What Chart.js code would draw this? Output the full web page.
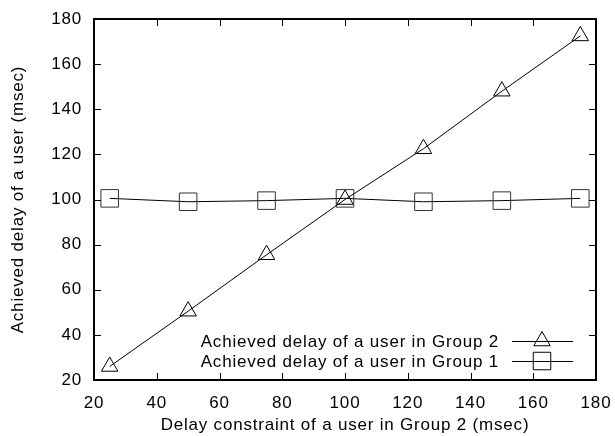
<!DOCTYPE html>
<html>
<head>
<meta charset="utf-8">
<script src="https://cdn.jsdelivr.net/npm/chart.js@4/dist/chart.umd.min.js"></script>
<style>
  body { margin: 0; background: #fff; }
  canvas { display: block; }
</style>
</head>
<body>
<canvas id="delayChart" width="615" height="436"></canvas>
<script>
const delayConstraint = [25, 50, 75, 100, 125, 150, 175];
const group2Delay = [26, 50.5, 75.5, 100, 122.5, 148, 172.5];
const group1Delay = [100.5, 99, 99.5, 100.5, 99, 99.5, 100.5];
const xTicks = [20, 40, 60, 80, 100, 120, 140, 160, 180];
const yTicks = [20, 40, 60, 80, 100, 120, 140, 160, 180];
const seriesLabels = ['Achieved delay of a user in Group 2', 'Achieved delay of a user in Group 1'];

const FONT = { family: "'Liberation Sans', Arial, sans-serif", size: 17 };

function toPoints(ys) {
  return delayConstraint.map((x, i) => ({ x, y: ys[i] }));
}

// gnuplot style frame: border plus inward ticks on all four sides
const framePlugin = {
  id: 'frame',
  beforeDraw(chart) {
    chart.ctx.letterSpacing = '0.8px';
  },
  afterDraw(chart) {
    const ctx = chart.ctx;
    const a = chart.chartArea;
    const xs = chart.scales.x, ys = chart.scales.y;
    const len = 7;
    ctx.save();
    ctx.strokeStyle = '#000';
    ctx.lineWidth = 1;
    ctx.beginPath();
    xTicks.slice(1, -1).forEach(v => {
      const px = Math.round(xs.getPixelForValue(v)) + 0.5;
      ctx.moveTo(px, a.bottom); ctx.lineTo(px, a.bottom - len);
      ctx.moveTo(px, a.top); ctx.lineTo(px, a.top + len);
    });
    yTicks.slice(1, -1).forEach(v => {
      const py = Math.round(ys.getPixelForValue(v)) + 0.5;
      ctx.moveTo(a.left, py); ctx.lineTo(a.left + len, py);
      ctx.moveTo(a.right, py); ctx.lineTo(a.right - len, py);
    });
    ctx.stroke();
    ctx.lineWidth = 2;
    ctx.strokeRect(a.left, a.top, a.right - a.left, a.bottom - a.top);

    // legend, bottom right inside the plot, sample to the right of the text
    ctx.font = FONT.size + 'px ' + FONT.family;
    ctx.fillStyle = '#000';
    ctx.textAlign = 'right';
    ctx.textBaseline = 'middle';
    ctx.lineWidth = 1;
    const styles = ['triangle', 'rect'];
    seriesLabels.forEach((label, i) => {
      const y = a.bottom - 39 + i * 20;
      ctx.fillText(label, a.right - 97, y + 1);
      ctx.beginPath();
      ctx.moveTo(a.right - 84, y + 0.5);
      ctx.lineTo(a.right - 23, y + 0.5);
      ctx.stroke();
      const cx = a.right - 54;
      ctx.beginPath();
      if (styles[i] === 'triangle') {
        const r = 9.5;
        ctx.moveTo(cx, y - r);
        ctx.lineTo(cx + r * Math.sin(Math.PI * 2 / 3), y + r / 2);
        ctx.lineTo(cx - r * Math.sin(Math.PI * 2 / 3), y + r / 2);
        ctx.closePath();
      } else {
        ctx.rect(cx - 8.75, y - 8.75, 17.5, 17.5);
      }
      ctx.stroke();
    });
    ctx.restore();
  }
};

new Chart(document.getElementById('delayChart'), {
  type: 'line',
  data: {
    datasets: [
      {
        label: seriesLabels[0],
        data: toPoints(group2Delay),
        borderColor: '#000',
        borderWidth: 1,
        pointStyle: 'triangle',
        pointRadius: 9.5,
        pointBorderColor: '#000',
        pointBorderWidth: 1,
        pointBackgroundColor: 'rgba(0,0,0,0)',
        tension: 0,
        fill: false
      },
      {
        label: seriesLabels[1],
        data: toPoints(group1Delay),
        borderColor: '#000',
        borderWidth: 1,
        pointStyle: 'rect',
        pointRadius: 12.4,
        pointBorderColor: '#333',
        pointBorderWidth: 1,
        pointBackgroundColor: 'rgba(0,0,0,0)',
        tension: 0,
        fill: false
      }
    ]
  },
  options: {
    responsive: false,
    animation: false,
    layout: { padding: { top: 19, right: 19, left: 0, bottom: 0 } },
    plugins: {
      legend: { display: false },
      tooltip: { enabled: false }
    },
    scales: {
      x: {
        type: 'linear',
        min: 20,
        max: 180,
        afterBuildTicks: s => { s.ticks = xTicks.map(v => ({ value: v })); },
        afterFit: s => { s.height = 56; s.paddingLeft = 0; s.paddingRight = 0; },
        grid: { display: false, drawTicks: false },
        border: { display: false },
        ticks: { color: '#000', font: FONT, padding: 13, maxRotation: 0 },
        title: {
          display: true,
          text: 'Delay constraint of a user in Group 2 (msec)',
          color: '#000',
          font: FONT,
          padding: { top: 0, bottom: 0 }
        }
      },
      y: {
        min: 20,
        max: 180,
        afterBuildTicks: s => { s.ticks = yTicks.map(v => ({ value: v })); },
        afterFit: s => { s.width = 94; s.paddingTop = 0; s.paddingBottom = 0; },
        grid: { display: false, drawTicks: false },
        border: { display: false },
        ticks: { color: '#000', font: FONT, padding: 12 },
        title: {
          display: true,
          text: 'Achieved delay of a user (msec)',
          color: '#000',
          font: FONT,
          padding: { top: 8, bottom: 0 }
        }
      }
    }
  },
  plugins: [framePlugin]
});
</script>
</body>
</html>
